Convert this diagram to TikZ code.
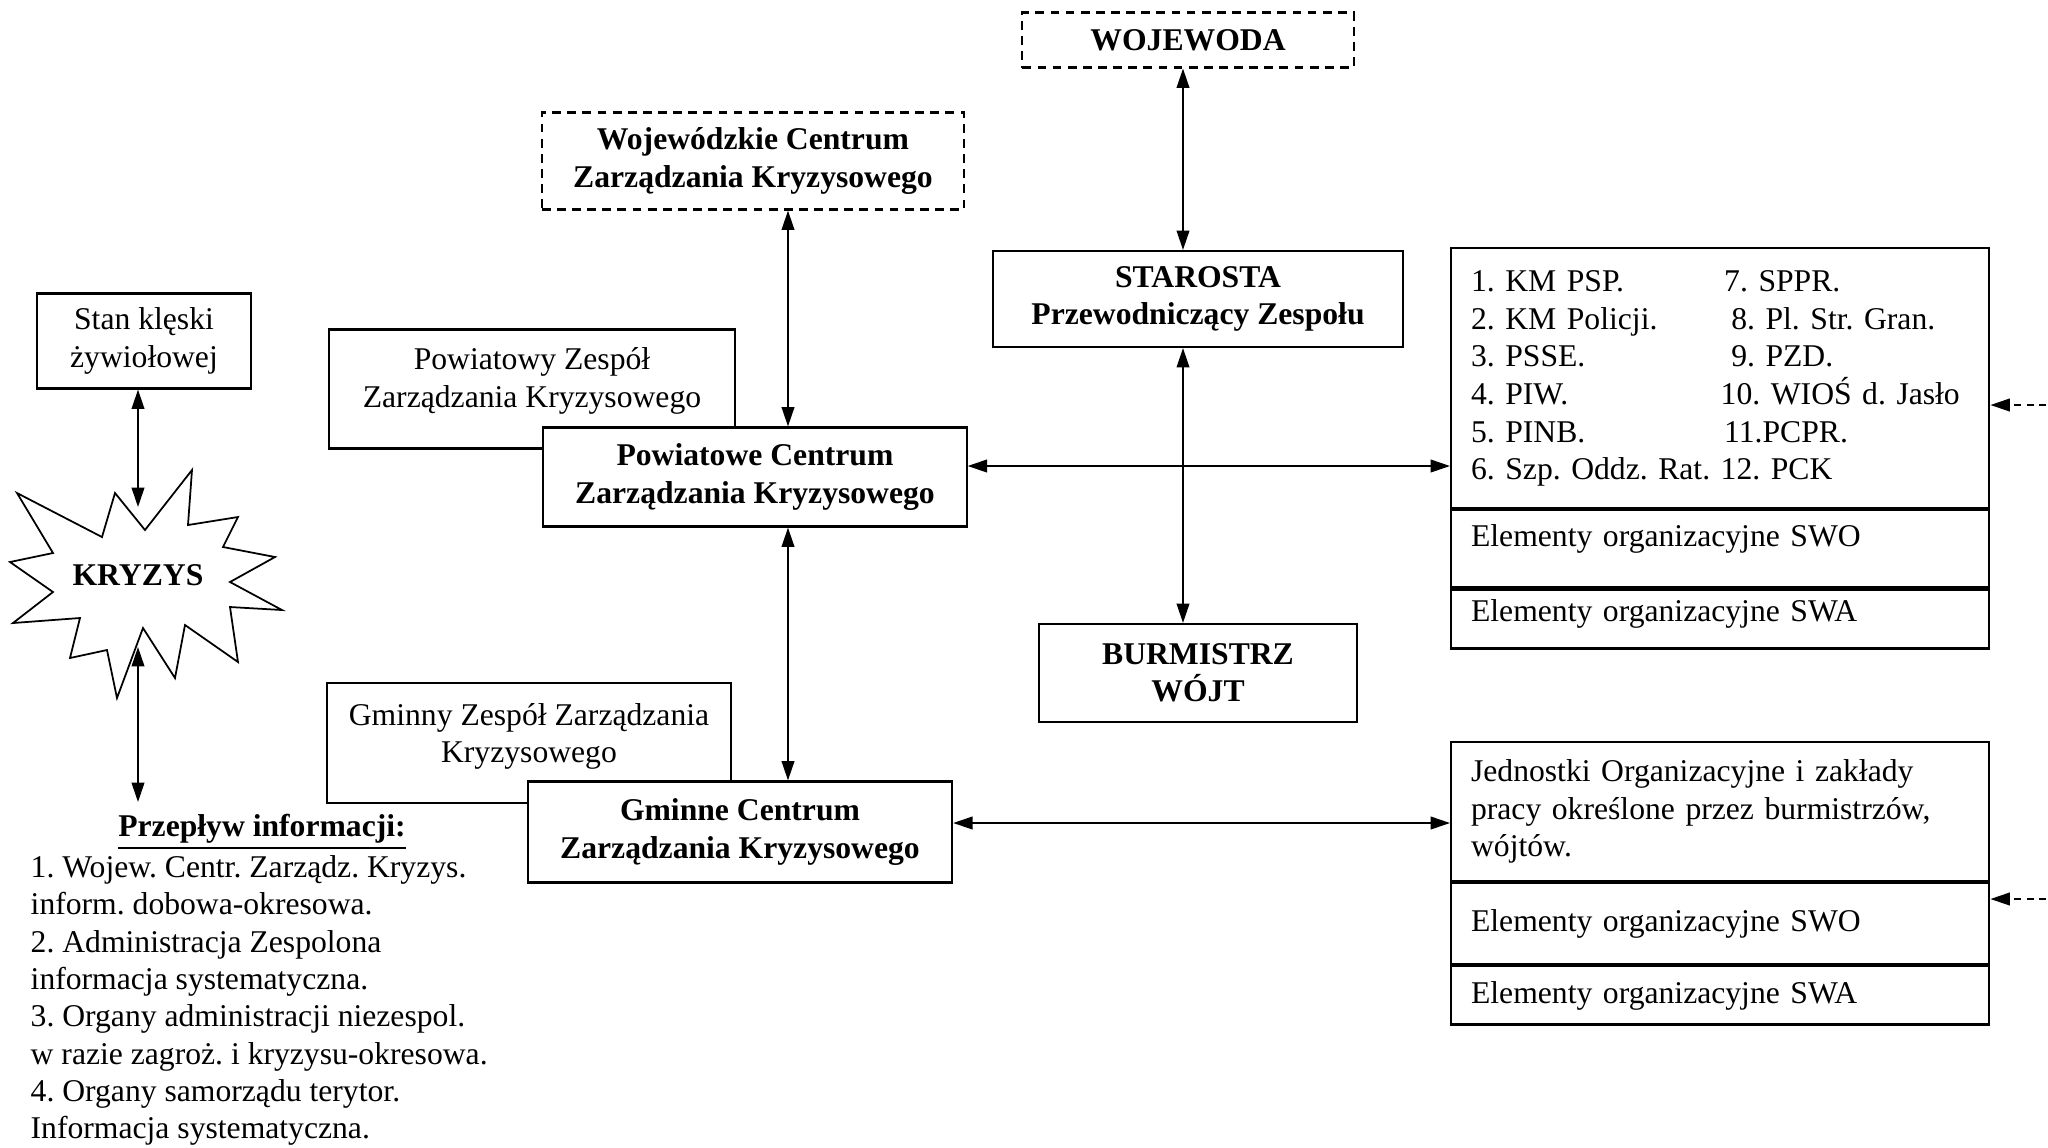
\documentclass[tikz,border=0pt]{standalone}
\usepackage{fontspec}
\setmainfont{Liberation Serif}
\usetikzlibrary{arrows.meta}
\frenchspacing

\begin{document}
\begin{tikzpicture}[x=0.01cm, y=-0.01cm,
    every node/.style={font=\fontsize{9pt}{10.6pt}\selectfont},
    box/.style={draw, line width=0.6pt, fill=white, align=center, inner sep=0pt},
    dbox/.style={box, dash pattern=on 2.5pt off 1.8pt},
    cell/.style={draw, line width=0.6pt, text width=4.98cm, inner xsep=0.2cm, inner ysep=0pt, align=left},
    link/.style={{Triangle[length=5.5pt,width=3.6pt]}-{Triangle[length=5.5pt,width=3.6pt]}, line width=0.5pt},
    feed/.style={-{Triangle[length=5.5pt,width=3.6pt]}, line width=0.5pt, dash pattern=on 2pt off 1.5pt}]

    \useasboundingbox (0,0) rectangle (2048,1147);

    % Upper level (dashed)
    \node[dbox, minimum width=3.31cm, minimum height=0.55cm] (wojewoda) at (1188,40) {\textbf{WOJEWODA}};
    \node[dbox, minimum width=4.22cm, minimum height=0.97cm] (wczk) at (753,161) {
        \textbf{Wojewódzkie Centrum}\\
        \textbf{Zarządzania Kryzysowego}
    };

    % Powiat level
    \node[box, minimum width=4.09cm, minimum height=0.96cm] (starosta) at (1198,299) {
        \textbf{STAROSTA}\\
        \textbf{Przewodniczący Zespołu}
    };
    \node[box, minimum width=4.06cm, minimum height=1.19cm, text depth=0.23cm] (pzzk) at (532,389) {
        Powiatowy Zespół\\
        Zarządzania Kryzysowego
    };
    \node[box, minimum width=4.23cm, minimum height=0.99cm] (pczk) at (755,477) {
        \textbf{Powiatowe Centrum}\\
        \textbf{Zarządzania Kryzysowego}
    };

    % Gmina level
    \node[box, minimum width=3.17cm, minimum height=0.98cm] (burmistrz) at (1198,673) {
        \textbf{BURMISTRZ}\\
        \textbf{WÓJT}
    };
    \node[box, minimum width=4.04cm, minimum height=1.20cm, text depth=0.2cm] (gzzk) at (529,743) {
        Gminny Zespół Zarządzania\\
        Kryzysowego
    };
    \node[box, minimum width=4.24cm, minimum height=1.01cm] (gczk) at (740,832) {
        \textbf{Gminne Centrum}\\
        \textbf{Zarządzania Kryzysowego}
    };

    % Left column: crisis
    \node[box, minimum width=2.14cm, minimum height=0.95cm] (stan) at (144,341) {
        Stan klęski\\
        żywiołowej
    };
    \draw[line width=0.5pt, fill=white] (17,493) -- (102,537) -- (115,493) -- (145,530)
        -- (192,470) -- (188,525) -- (238,517) -- (223,547) -- (275,557) -- (230,582)
        -- (282,610) -- (230,607) -- (238,662) -- (185,625) -- (175,678) -- (143,628)
        -- (117,698) -- (107,650) -- (70,658) -- (80,618) -- (13,623) -- (53,592)
        -- (10,562) -- (53,553) -- cycle;
    \node (kryzys) at (138,575) {\textbf{KRYZYS}};
    \coordinate (krtop) at (138,507);
    \coordinate (krbot) at (138,647);
    \coordinate (flowtop) at (138,802);

    \node (flowhead) at (262,832) {\underline{\textbf{Przepływ informacji:}}};
    \node[anchor=north west, inner sep=0pt, align=left] (flowlist) at (30,855) {
        1. Wojew. Centr. Zarządz. Kryzys.\\
        inform. dobowa-okresowa.\\
        2. Administracja Zespolona\\
        informacja systematyczna.\\
        3. Organy administracji niezespol.\\
        w razie zagroż. i kryzysu-okresowa.\\
        4. Organy samorządu terytor.\\
        Informacja systematyczna.
    };

    % Right tables
    \node[cell, minimum height=2.60cm, anchor=north west] (tab1a) at (1450,247) {
        \begin{tabular}{@{}l@{\hspace{3pt}}l@{}}
        1. KM PSP. & \hspace{1pt}7. SPPR.\\
        2. KM Policji. & \hspace{3pt}8. Pl. Str. Gran.\\
        3. PSSE. & \hspace{3pt}9. PZD.\\
        4. PIW. & 10. WIOŚ d. Jasło\\
        5. PINB. & \hspace{1pt}11.PCPR.\\
        6. Szp. Oddz. Rat. & 12. PCK
        \end{tabular}
    };
    \node[cell, minimum height=0.77cm, text depth=0.27cm, anchor=north] (tab1b) at (tab1a.south) {Elementy organizacyjne SWO};
    \node[cell, minimum height=0.59cm, text depth=0.16cm, anchor=north] (tab1c) at (tab1b.south) {Elementy organizacyjne SWA};

    \node[cell, minimum height=1.39cm, anchor=north west] (tab2a) at (1450,741) {
        Jednostki Organizacyjne i zakłady\\
        pracy określone przez burmistrzów,\\
        wójtów.
    };
    \node[cell, minimum height=0.81cm, anchor=north] (tab2b) at (tab2a.south) {Elementy organizacyjne SWO};
    \node[cell, minimum height=0.58cm, anchor=north] (tab2c) at (tab2b.south) {Elementy organizacyjne SWA};

    % Connectors
    \coordinate (axisp) at (788,0);
    \coordinate (axiss) at (1183,0);
    \coordinate (axisk) at (138,0);
    \coordinate (pczkout) at ([yshift=0.11cm]pczk.east);
    \coordinate (gczkout) at ([yshift=0.09cm]gczk.east);
    \coordinate (feed1) at (2046,405);
    \coordinate (feed2) at (2046,899);

    \draw[link] (wojewoda.south -| axiss) -- (starosta.north -| axiss);
    \draw[link] (starosta.south -| axiss) -- (burmistrz.north -| axiss);
    \draw[link] (wczk.south -| axisp) -- (pczk.north -| axisp);
    \draw[link] (pczk.south -| axisp) -- (gczk.north -| axisp);
    \draw[link] (pczkout) -- (pczkout -| tab1a.west);
    \draw[link] (gczkout) -- (gczkout -| tab2a.west);
    \draw[link] (stan.south -| axisk) -- (krtop);
    \draw[link] (krbot) -- (flowtop);
    \draw[feed] (feed1) -- (feed1 -| tab1a.east);
    \draw[feed] (feed2) -- (feed2 -| tab2a.east);

\end{tikzpicture}
\end{document}
